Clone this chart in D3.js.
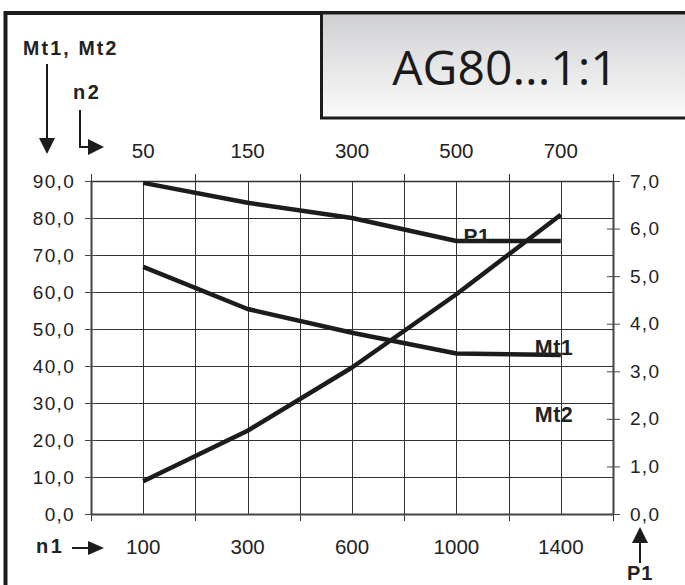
<!DOCTYPE html>
<html>
<head>
<meta charset="utf-8">
<script src="https://cdn.jsdelivr.net/npm/d3@7/dist/d3.min.js"></script>
<style>
  body { margin: 0; background: #fff; }
  text { font-family: "Liberation Sans", Arial, sans-serif; fill: #222; }
</style>
</head>
<body>
<div id="chart"></div>
<script>
/* ---------------- DATA ---------------- */
const n1 = ["100", "300", "600", "1000", "1400"];
const n2 = ["50", "150", "300", "500", "700"];
const mt2 = [89.5, 84.1, 80.0, 73.8, 73.8];   // top line
const mt1 = [66.8, 55.4, 49.0, 43.4, 43.0];   // middle line
const p1 = [0.69, 1.75, 3.08, 4.62, 6.29];    // rising line, right axis
const leftTicks = [0, 10, 20, 30, 40, 50, 60, 70, 80, 90];
const rightTicks = [0, 1, 2, 3, 4, 5, 6, 7];
const title = "AG80...1:1";

/* ---------------- DIMENSIONS ---------------- */
const width = 685, height = 585;
const plot = {left: 91, right: 613, top: 181, bottom: 514};
const ink = "#1e1b1b";
const fmt = d => d.toFixed(1).replace(".", ",");

const svg = d3.select("#chart").append("svg")
    .attr("width", width)
    .attr("height", height);

/* ---------------- FRAME + TITLE BOX ---------------- */
const defs = svg.append("defs");
const grad = defs.append("linearGradient")
    .attr("id", "titleGrad")
    .attr("x1", "0%").attr("y1", "0%")
    .attr("x2", "0%").attr("y2", "100%");
grad.append("stop").attr("offset", "0%").attr("stop-color", "#cfd0d2");
grad.append("stop").attr("offset", "100%").attr("stop-color", "#fbfbfb");

svg.append("rect")
    .attr("x", 5.5).attr("y", 13)
    .attr("width", 720).attr("height", 620)
    .attr("fill", "none")
    .attr("stroke", ink)
    .attr("stroke-width", 4);

svg.append("rect")
    .attr("x", 321.5).attr("y", 13)
    .attr("width", 400).attr("height", 105)
    .attr("fill", "url(#titleGrad)")
    .attr("stroke", ink)
    .attr("stroke-width", 3);

svg.append("text")
    .attr("x", 505).attr("y", 85)
    .attr("text-anchor", "middle")
    .style("font-family", "'Open Sans', sans-serif")
    .style("font-size", "48px")
    .style("fill", "#1a1a1a")
    .text(title);

/* ---------------- SCALES ---------------- */
const x = d3.scaleBand().domain(n1).range([plot.left, plot.right]).padding(0);
const xTop = d3.scaleBand().domain(n2).range([plot.left, plot.right]).padding(0);
const xc = c => x(c) + x.bandwidth() / 2;

const yL = d3.scaleLinear().domain([0, 90]).range([plot.bottom, plot.top]);
const yR = d3.scaleLinear().domain([0, 7]).range([plot.bottom, plot.top]);

/* ---------------- GRID ---------------- */
const grid = svg.append("g").attr("stroke", "#333").attr("stroke-width", 1);

grid.selectAll(".h").data(leftTicks).join("line")
    .attr("x1", plot.left).attr("x2", plot.right)
    .attr("y1", d => Math.round(yL(d)) + 0.5)
    .attr("y2", d => Math.round(yL(d)) + 0.5);

// category centres
grid.selectAll(".c").data(n1).join("line")
    .attr("x1", d => Math.round(xc(d)) + 0.5)
    .attr("x2", d => Math.round(xc(d)) + 0.5)
    .attr("y1", plot.top).attr("y2", plot.bottom);

// category boundaries, poking out as ticks top and bottom
const bounds = n1.map(d => x(d)).concat([plot.right]);
grid.selectAll(".b").data(bounds).join("line")
    .attr("x1", d => Math.round(d) + 0.5)
    .attr("x2", d => Math.round(d) + 0.5)
    .attr("y1", plot.top - 7).attr("y2", plot.bottom + 7);

/* ---------------- AXES ---------------- */
const axisStyle = g => {
    g.select(".domain").attr("stroke", "#444").attr("stroke-width", 2);
    g.selectAll(".tick line").attr("stroke", "#444");
    g.selectAll(".tick text")
        .style("font-family", "'Liberation Sans', Arial, sans-serif")
        .style("fill", "#222");
};

svg.append("g")
    .attr("transform", `translate(${plot.left},0)`)
    .call(d3.axisLeft(yL).tickValues(leftTicks).tickFormat(fmt)
        .tickSizeInner(6).tickSizeOuter(0).tickPadding(10))
    .call(g => g.selectAll(".tick line").attr("x2", 6).attr("x1", -6))
    .call(axisStyle)
    .call(g => g.selectAll(".tick text").style("font-size", "19px").style("letter-spacing", "1.3px"));

svg.append("g")
    .attr("transform", `translate(${plot.right},0)`)
    .call(d3.axisRight(yR).tickValues(rightTicks).tickFormat(fmt)
        .tickSizeInner(7).tickSizeOuter(0).tickPadding(10))
    .call(g => g.selectAll(".tick line").attr("x1", -6))
    .call(axisStyle)
    .call(g => g.selectAll(".tick text").style("font-size", "19px").style("letter-spacing", "1.3px"));

svg.append("g")
    .attr("transform", `translate(0,${plot.bottom})`)
    .call(d3.axisBottom(x).tickSize(0).tickPadding(25))
    .call(axisStyle)
    .call(g => g.selectAll(".tick text").style("font-size", "20.5px"));

svg.append("g")
    .attr("transform", `translate(0,${plot.top})`)
    .call(d3.axisTop(xTop).tickSize(0).tickPadding(23))
    .call(axisStyle)
    .call(g => g.select(".domain").attr("stroke", "#333").attr("stroke-width", 1.5))
    .call(g => g.selectAll(".tick text").style("font-size", "20.5px"));

/* ---------------- LINES ---------------- */
const lineL = d3.line().x((d, i) => xc(n1[i])).y(d => yL(d));
const lineR = d3.line().x((d, i) => xc(n1[i])).y(d => yR(d));

[[mt2, lineL], [mt1, lineL], [p1, lineR]].forEach(([s, gen]) => {
    svg.append("path")
        .datum(s)
        .attr("fill", "none")
        .attr("stroke", ink)
        .attr("stroke-width", 4.5)
        .attr("stroke-linejoin", "round")
        .attr("d", gen);
});

/* ---------------- LABELS ---------------- */
const bold = (sel, size, spacing) => sel
    .style("font-weight", "700")
    .style("font-size", size + "px")
    .style("letter-spacing", spacing + "px")
    .style("fill", "#222");

svg.append("text").attr("x", xc("1000") + 7).attr("y", yL(mt2[3]) + 2)
    .call(bold, 21, 0.5).text("P1");
svg.append("text").attr("x", xc("1400") - 26).attr("y", yL(mt1[4]))
    .call(bold, 21.5, 0.5).text("Mt1");
svg.append("text").attr("x", xc("1400") - 26).attr("y", yL(25))
    .call(bold, 21.5, 0.5).text("Mt2");

svg.append("text").attr("x", 23).attr("y", 55).call(bold, 19.5, 2.2).text("Mt1, Mt2");
svg.append("text").attr("x", 73).attr("y", 99).call(bold, 20, 2.5).text("n2");
svg.append("text").attr("x", 36).attr("y", 553).call(bold, 20, 2.5).text("n1");
svg.append("text").attr("x", 627).attr("y", 580).call(bold, 20, 1).text("P1");

/* ---------------- ARROWS ---------------- */
const arrows = svg.append("g").attr("stroke", ink).attr("fill", ink).attr("stroke-width", 2);

// Mt1, Mt2 down arrow
arrows.append("line").attr("x1", 47).attr("x2", 47).attr("y1", 64).attr("y2", 140);
arrows.append("path").attr("stroke", "none").attr("d", "M39,138 L55,138 L47,154 Z");

// n2 bent arrow
arrows.append("path").attr("fill", "none").attr("d", "M80,110 L80,147 L90,147");
arrows.append("path").attr("stroke", "none").attr("d", "M88,139 L104,147 L88,155 Z");

// n1 arrow
arrows.append("line").attr("x1", 72).attr("x2", 90).attr("y1", 548).attr("y2", 548);
arrows.append("path").attr("stroke", "none").attr("d", "M88,541 L104,548 L88,555 Z");

// P1 up arrow
arrows.append("line").attr("x1", 640).attr("x2", 640).attr("y1", 540).attr("y2", 563);
arrows.append("path").attr("stroke", "none").attr("d", "M632,543 L648,543 L640,527 Z");
</script>
</body>
</html>
